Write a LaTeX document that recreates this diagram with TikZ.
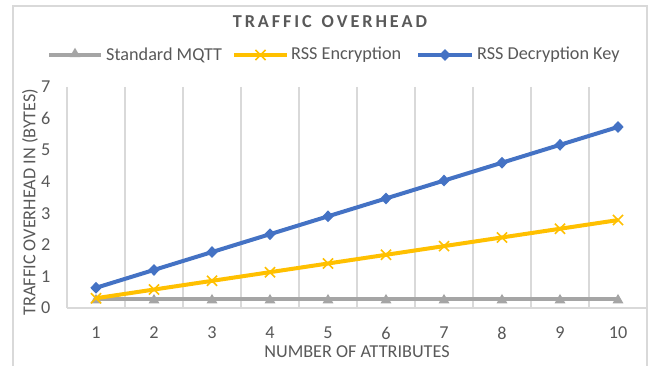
\documentclass[tikz,border=0pt]{standalone}
\usepackage{fontspec}
\setmainfont{Carlito}
\usetikzlibrary{shapes.geometric,shapes.misc}
\definecolor{txt}{HTML}{595959}
\definecolor{gridc}{HTML}{D9D9D9}
\definecolor{mqttc}{HTML}{A5A5A5}
\definecolor{encc}{HTML}{FFC000}
\definecolor{decc}{HTML}{4472C4}
\newcommand\lblfont{\fontsize{18.2}{21}\selectfont}
\newcommand\ls{\kern2.9pt}
\tikzset{
  gridline/.style={draw=gridc, line width=1.6pt},
  lbl/.style={text=txt, font=\lblfont, inner sep=0pt},
  series/.style={line width=4pt, line join=round},
  trimark/.style={regular polygon, regular polygon sides=3, fill=mqttc, minimum size=12.5pt, inner sep=0pt},
  xmark/.style={cross out, draw=encc, line width=1.6pt, minimum size=8.5pt, inner sep=0pt},
  dmark/.style={diamond, fill=decc, minimum width=11.5pt, minimum height=12pt, inner sep=0pt},
}
\begin{document}
\begin{tikzpicture}[x=1pt,y=-1pt]
\useasboundingbox (0,0) rectangle (655,366);
\fill[white] (0,0) rectangle (655,366);
% chart border
\draw[gridline] (13,368) -- (13,6) -- (647,6) -- (647,368);
% title
\node[text=txt, font=\lblfont\bfseries, inner sep=0pt] (title) at (330,22)
  {T\ls R\ls A\ls F\ls F\ls I\ls C\ls\ \ls O\ls V\ls E\ls R\ls H\ls E\ls A\ls D};
% legend
\coordinate (lm1) at (49,55); \coordinate (lm2) at (101,55);
\draw[series, mqttc] (lm1) -- (lm2);
\node[trimark] (lmt) at (75,54) {};
\node[lbl, anchor=west] (lmtext) at (106,55) {Standard MQTT};
\coordinate (le1) at (234,55); \coordinate (le2) at (287,55);
\draw[series, encc] (le1) -- (le2);
\node[xmark] (lex) at (260.5,55) {};
\node[lbl, anchor=west] (letext) at (291,55) {RSS Encryption};
\coordinate (ld1) at (418,55); \coordinate (ld2) at (472,55);
\draw[series, decc] (ld1) -- (ld2);
\node[dmark] (ldd) at (445,55) {};
\node[lbl, anchor=west] (ldtext) at (477,55) {RSS Decryption Key};
% grid
\foreach \i in {0,...,10} \draw[gridline] ({67+58*\i},87) -- ({67+58*\i},308);
\draw[gridline] (67,308) -- (647,308);
% y tick labels
\foreach \k in {0,...,7} \node[lbl, anchor=east] (yl\k) at (50.5,{308-31.57*\k}) {\k};
% x tick labels
\foreach \n in {1,...,10} \node[lbl] (xl\n) at ({38+58*\n},333) {\n};
% axis titles
\node[lbl] (xtitle) at (357,352) {NUMBER OF ATTRIBUTES};
\node[lbl, rotate=90] (ytitle) at (30,202) {TRAFFIC OVERHEAD IN (BYTES)};
% data coordinates
\foreach \n in {1,...,10} {
  \coordinate (m\n) at ({38+58*\n},{308-31.57*0.28});
  \coordinate (e\n) at ({38+58*\n},{308-31.57*(0.31+0.275*(\n-1))});
  \coordinate (d\n) at ({38+58*\n},{308-31.57*(0.64+0.566*(\n-1))});
}
% Standard MQTT
\draw[series, mqttc] (m1) \foreach \n in {2,...,10} { -- (m\n) };
\foreach \n in {1,...,10} \node[trimark] (mt\n) at ([yshift=-1pt]m\n) {};
% RSS Encryption
\draw[series, encc] (e1) \foreach \n in {2,...,10} { -- (e\n) };
\foreach \n in {1,...,10} \node[xmark] (ex\n) at (e\n) {};
% RSS Decryption Key
\draw[series, decc] (d1) \foreach \n in {2,...,10} { -- (d\n) };
\foreach \n in {1,...,10} \node[dmark] (dd\n) at (d\n) {};
\end{tikzpicture}
\end{document}
